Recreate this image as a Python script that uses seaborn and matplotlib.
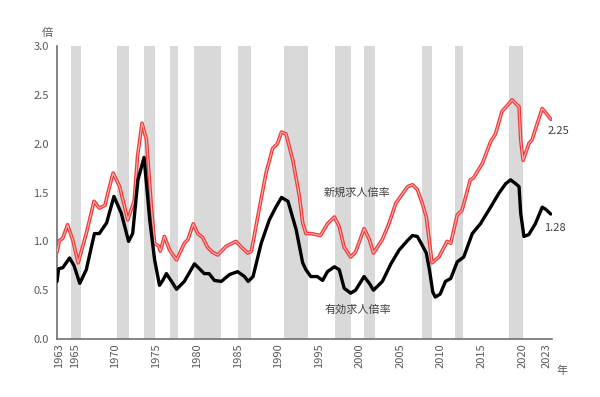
import pandas as pd
import seaborn as sns
import matplotlib.pyplot as plt

# 景気後退期 (shaded bands)
rec_start = [1964.5, 1970.2, 1973.45, 1976.7, 1979.7, 1985.0, 1990.7, 1996.95, 2000.5, 2007.7, 2011.7, 2018.4]
rec_end = [1965.7, 1971.65, 1974.9, 1977.7, 1982.9, 1986.6, 1993.65, 1998.9, 2001.9, 2008.9, 2012.7, 2020.1]

# 有効求人倍率
yr_yuko = [1962.8, 1963.0, 1963.5, 1964.35, 1964.9, 1965.6, 1966.4, 1967.4, 1968.0, 1968.9,
           1969.8, 1970.7, 1971.6, 1972.1, 1972.75, 1973.5, 1974.2, 1974.8, 1975.4, 1975.8,
           1976.25, 1976.8, 1977.5, 1978.45, 1979.7, 1980.3, 1980.9, 1981.5, 1982.15, 1983.0,
           1984.0, 1985.0, 1985.85, 1986.3, 1986.9, 1987.9, 1988.9, 1989.7, 1990.4, 1991.2,
           1992.2, 1993.0, 1993.4, 1994.0, 1994.8, 1995.45, 1996.05, 1996.9, 1997.5, 1998.1,
           1998.9, 1999.5, 2000.55, 2001.2, 2001.7, 2002.8, 2003.85, 2004.85, 2005.9, 2006.5,
           2007.1, 2007.7, 2008.2, 2008.6, 2009.0, 2009.3, 2009.9, 2010.55, 2011.2, 2012.0,
           2012.8, 2013.85, 2014.85, 2016.1, 2017.1, 2017.95, 2018.55, 2019.2, 2019.6, 2019.8,
           2020.2, 2020.8, 2021.6, 2022.45, 2022.85, 2023.5]
val_yuko = [0.59, 0.72, 0.73, 0.83, 0.75, 0.57, 0.71, 1.08, 1.08, 1.19,
            1.46, 1.29, 1.00, 1.08, 1.63, 1.86, 1.22, 0.81, 0.55, 0.60,
            0.67, 0.60, 0.51, 0.59, 0.77, 0.72, 0.67, 0.67, 0.60, 0.59,
            0.66, 0.69, 0.64, 0.59, 0.64, 0.98, 1.22, 1.35, 1.45, 1.41,
            1.12, 0.78, 0.71, 0.64, 0.64, 0.60, 0.69, 0.74, 0.71, 0.52,
            0.47, 0.50, 0.64, 0.57, 0.50, 0.59, 0.77, 0.91, 1.01, 1.06,
            1.05, 0.96, 0.88, 0.70, 0.48, 0.43, 0.46, 0.59, 0.62, 0.79,
            0.84, 1.08, 1.18, 1.35, 1.49, 1.59, 1.63, 1.59, 1.56, 1.29,
            1.05, 1.07, 1.18, 1.35, 1.33, 1.28]

# 新規求人倍率
yr_shinki = [1962.8, 1963.1, 1963.5, 1964.1, 1964.75, 1965.4, 1966.4, 1967.35, 1968.0, 1968.7,
             1969.1, 1969.7, 1970.5, 1971.5, 1972.3, 1972.7, 1973.25, 1973.8, 1974.4, 1974.8,
             1975.3, 1975.5, 1976.0, 1976.65, 1977.5, 1978.45, 1978.9, 1979.55, 1980.1, 1980.7,
             1981.3, 1981.9, 1982.55, 1983.6, 1984.8, 1985.6, 1986.25, 1986.7, 1987.7, 1988.5,
             1989.3, 1989.9, 1990.4, 1990.95, 1991.8, 1992.6, 1993.0, 1993.4, 1994.0, 1995.2,
             1996.05, 1996.9, 1997.5, 1998.1, 1998.9, 1999.5, 2000.55, 2001.2, 2001.7, 2002.8,
             2003.6, 2004.45, 2005.05, 2005.9, 2006.5, 2007.1, 2007.7, 2008.2, 2008.5, 2008.9,
             2009.75, 2010.75, 2011.2, 2012.0, 2012.6, 2013.6, 2014.0, 2015.1, 2016.1, 2016.7,
             2017.5, 2018.35, 2018.75, 2019.2, 2019.6, 2019.8, 2020.1, 2020.8, 2021.2, 2021.85,
             2022.45, 2022.85, 2023.5]
val_shinki = [0.89, 1.01, 1.03, 1.17, 1.01, 0.78, 1.08, 1.41, 1.34, 1.37,
              1.51, 1.70, 1.56, 1.22, 1.42, 1.87, 2.21, 2.04, 1.35, 0.98,
              0.95, 0.90, 1.05, 0.91, 0.81, 0.98, 1.02, 1.18, 1.08, 1.04,
              0.94, 0.89, 0.86, 0.95, 1.00, 0.93, 0.88, 0.90, 1.35, 1.70,
              1.95, 2.00, 2.12, 2.10, 1.83, 1.46, 1.19, 1.08, 1.08, 1.06,
              1.18, 1.25, 1.15, 0.94, 0.84, 0.89, 1.13, 1.02, 0.88, 1.02,
              1.18, 1.39, 1.46, 1.56, 1.58, 1.53, 1.39, 1.25, 1.05, 0.78,
              0.84, 1.00, 0.98, 1.27, 1.32, 1.63, 1.65, 1.80, 2.02, 2.10,
              2.33, 2.41, 2.45, 2.41, 2.38, 2.04, 1.83, 2.00, 2.04, 2.21,
              2.36, 2.32, 2.25]

tick_years = [1963, 1965, 1970, 1975, 1980, 1985, 1990, 1995, 2000, 2005, 2010, 2015, 2020, 2023]
minor_years = list(range(1963, 2024))
y_ticks = [0.0, 0.5, 1.0, 1.5, 2.0, 2.5, 3.0]

df_y = pd.DataFrame({"年": yr_yuko, "倍率": val_yuko})
df_s = pd.DataFrame({"年": yr_shinki, "倍率": val_shinki})

sns.set_style("white")
plt.rcParams["font.family"] = ["Noto Sans CJK JP", "DejaVu Sans"]

fig = plt.figure(figsize=(6.0, 3.97), dpi=100)
ax = fig.add_axes([0.095, 0.146, 0.825, 0.738])

for a, b in zip(rec_start, rec_end):
    ax.axvspan(a, b, color="#d9d9d9", lw=0, zorder=0)

# 新規: red outline with a lighter core
sns.lineplot(data=df_s, x="年", y="倍率", ax=ax, color="#ee3b3b", lw=2.6, zorder=3)
sns.lineplot(data=df_s, x="年", y="倍率", ax=ax, color="#f9b0b0", lw=0.8, zorder=4)
sns.lineplot(data=df_y, x="年", y="倍率", ax=ax, color="black", lw=2.4, zorder=5)
for ln in ax.lines:
    ln.set_solid_joinstyle("round")

ax.set_xlim(1962.8, 2023.65)
ax.set_ylim(0, 3.0)
ax.set_xlabel("")
ax.set_ylabel("")
ax.set_xticks(tick_years)
ax.set_xticks(minor_years, minor=True)
ax.set_xticklabels([str(t) for t in tick_years], rotation=90)
ax.set_yticks(y_ticks)
ax.set_yticklabels([f"{v:.1f}" for v in y_ticks])
ax.tick_params(axis="both", which="both", direction="in", colors="#707070",
               labelcolor="#595959", labelsize=8)
ax.tick_params(axis="x", which="major", length=4, width=0.8, pad=3)
ax.tick_params(axis="x", which="minor", length=3, width=0.8)
ax.tick_params(axis="y", length=4, width=0.8, pad=6)

for side in ["top", "right"]:
    ax.spines[side].set_visible(False)
for side in ["left", "bottom"]:
    ax.spines[side].set_color("#707070")
    ax.spines[side].set_linewidth(1.2)

txt = "#404040"
ax.text(1999.7, 1.50, "新規求人倍率", ha="center", va="center", fontsize=8, color=txt)
ax.text(1999.8, 0.30, "有効求人倍率", ha="center", va="center", fontsize=8, color=txt)
ax.text(2023.05, 2.13, "2.25", ha="left", va="center", fontsize=8, color=txt)
ax.text(2022.7, 1.14, "1.28", ha="left", va="center", fontsize=8, color=txt)
fig.text(47 / 600, 1 - 33 / 397, "倍", ha="center", va="center", fontsize=8, color="#595959")
fig.text(562 / 600, 1 - 371 / 397, "年", ha="center", va="center", fontsize=8, color="#595959")

fig.savefig("out.png", dpi=100)
